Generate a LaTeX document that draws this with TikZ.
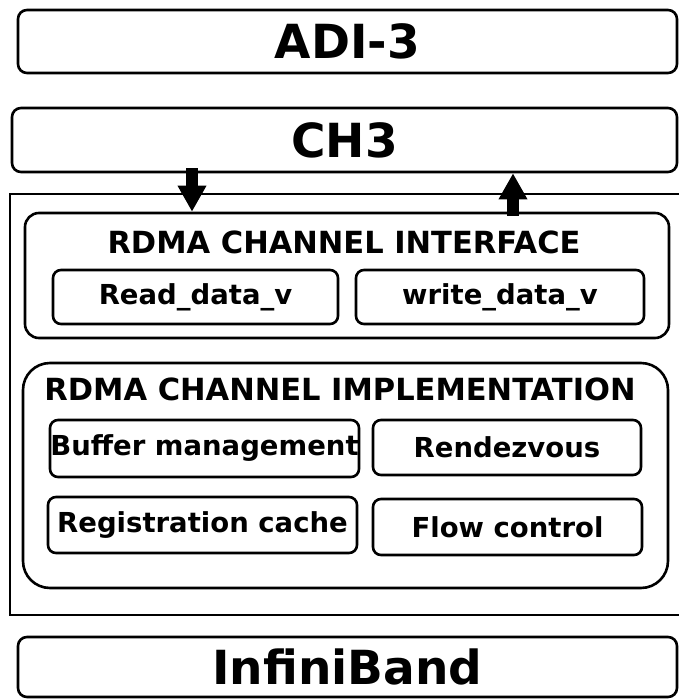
\documentclass[tikz,border=0pt]{standalone}
\usepackage{fontspec}
\setmainfont{DejaVu Sans}
\usetikzlibrary{arrows.meta}

\tikzset{
  layer/.style={draw, line width=2.6pt, rounded corners=9pt, inner sep=0pt,
    font=\bfseries\fontsize{47}{49}\selectfont},
  group/.style={draw, line width=2.6pt, inner sep=0pt},
  grouptitle/.style={inner sep=0pt, font=\bfseries\fontsize{30.5}{32}\selectfont},
  part/.style={draw, line width=2.6pt, rounded corners=8pt, inner sep=0pt,
    font=\bfseries\fontsize{27.5}{29}\selectfont},
  flow/.style={line width=12pt, -{Triangle[length=26pt,width=27pt]}}
}

\begin{document}
\begin{tikzpicture}[x=1pt, y=-1pt]
  \useasboundingbox (0,0) rectangle (679,699);

  % top layers
  \node[layer, minimum width=659pt, minimum height=63pt] (adi) at (347.5,41.5) {ADI-3};
  \node[layer, minimum width=665pt, minimum height=64pt] (ch3) at (344.5,140) {CH3};

  % frame holding the RDMA channel (open on the right)
  \draw[line width=2.6pt] (679,194) -- (10,194) -- (10,615) -- (679,615);

  % channel interface
  \node[group, rounded corners=14pt, minimum width=644pt, minimum height=125pt] (iface) at (347,275.5) {};
  \node[grouptitle] (ifacetitle) at (344,242) {RDMA CHANNEL INTERFACE};
  \node[part, minimum width=285pt, minimum height=54pt] (read) at (195.5,297) {Read\_data\_v};
  \node[part, minimum width=288pt, minimum height=54pt] (write) at (500,297) {write\_data\_v};

  % channel implementation
  \node[group, rounded corners=27pt, minimum width=645pt, minimum height=225pt] (impl) at (345.5,475.5) {};
  \node[grouptitle] (impltitle) at (340,389) {RDMA CHANNEL IMPLEMENTATION};
  \node[part, minimum width=309pt, minimum height=57pt] (buf) at (204.5,448.5) {Buffer management};
  \node[part, minimum width=268pt, minimum height=55pt] (rndv) at (507,447.5) {Rendezvous};
  \node[part, minimum width=309pt, minimum height=56pt] (reg) at (202.5,525) {Registration cache};
  \node[part, minimum width=269pt, minimum height=56pt] (fc) at (507.5,527) {Flow control};

  % network layer
  \node[layer, minimum width=659pt, minimum height=60pt] (ib) at (347.5,667) {InfiniBand};

  % data paths between CH3 and the channel interface
  \coordinate (dnx) at (192,0);
  \coordinate (upx) at (513,0);
  \draw[flow, shorten <=-5pt] (dnx |- ch3.south) -- (dnx |- iface.north);
  \draw[flow, shorten <=-4pt] (upx |- iface.north) -- (upx |- ch3.south);
\end{tikzpicture}
\end{document}
